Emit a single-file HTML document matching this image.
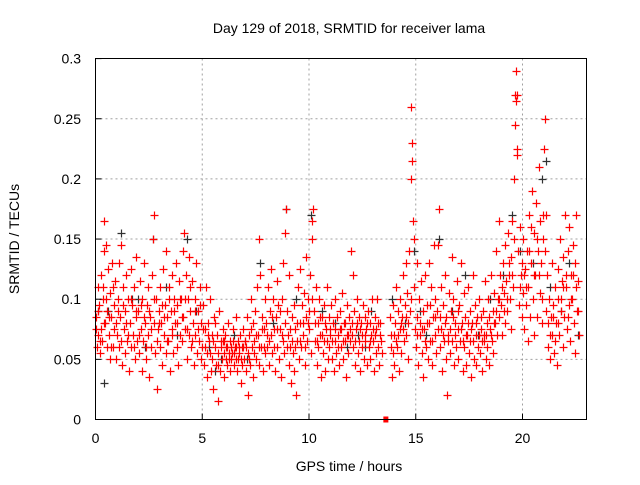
<!DOCTYPE html>
<html><head><meta charset="utf-8"><style>
body{margin:0;background:#fff;}
svg text{font-family:"Liberation Sans",sans-serif;font-size:14px;fill:#000;}
</style></head><body>
<svg id="chart" width="640" height="480" xmlns="http://www.w3.org/2000/svg">
<g id="grid"></g>
<g id="pts"></g>
<rect x="95.5" y="58.5" width="491" height="361" fill="none" stroke="#000"/>
<g id="axes"></g>
<text x="349" y="33" text-anchor="middle">Day 129 of 2018, SRMTID for receiver lama</text>
<text x="349" y="471" text-anchor="middle">GPS time / hours</text>
<text transform="translate(19,239) rotate(-90)" text-anchor="middle">SRMTID / TECUs</text>
</svg>
<script>
const xTicks=[0,5,10,15,20];
const yTicks=[0,0.05,0.1,0.15,0.2,0.25,0.3];
const yTickLabels=["0","0.05","0.1","0.15","0.2","0.25","0.3"];
const redPts=[[0.02,.085],[0.05,.06],[0.1,.11],[0.13,.07],[0.17,.095],[0.2,.055],[0.24,.12],[0.28,.075],[0.31,.065],[0.35,.1],[0.38,.165],[0.42,.14],[0.45,.08],[0.49,.145],[0.52,.06],[0.56,.09],[0.6,.125],[0.63,.07],[0.67,.05],[0.7,.105],[0.74,.085],[0.77,.13],[0.81,.06],[0.85,.095],[0.88,.075],[0.92,.115],[0.96,.05],
[1.0,.07],[1.04,.1],[1.08,.13],[1.12,.06],[1.16,.085],[1.2,.145],[1.24,.045],[1.28,.11],[1.32,.075],[1.36,.09],[1.4,.055],[1.44,.12],[1.48,.065],[1.52,.1],[1.56,.04],[1.6,.08],[1.64,.125],[1.68,.06],[1.72,.095],[1.76,.07],[1.8,.11],[1.84,.05],[1.88,.085],[1.92,.135],[1.96,.065],
[2.0,.09],[2.04,.055],[2.08,.115],[2.12,.075],[2.16,.04],[2.2,.1],[2.24,.065],[2.28,.13],[2.32,.08],[2.36,.05],[2.4,.095],[2.44,.07],[2.48,.11],[2.52,.035],[2.56,.085],[2.6,.06],[2.64,.12],[2.68,.15],[2.72,.17],[2.76,.08],[2.8,.055],[2.84,.1],[2.88,.025],[2.92,.075],[2.96,.09],
[3.0,.06],[3.04,.11],[3.08,.08],[3.12,.045],[3.16,.125],[3.2,.07],[3.24,.095],[3.28,.055],[3.32,.14],[3.36,.085],[3.4,.065],[3.44,.11],[3.48,.04],[3.52,.09],[3.56,.075],[3.6,.12],[3.64,.055],[3.68,.1],[3.72,.08],[3.76,.13],[3.8,.06],[3.84,.095],[3.88,.045],[3.92,.115],[3.96,.07],
[4.0,.1],[4.04,.065],[4.08,.14],[4.12,.085],[4.16,.155],[4.2,.075],[4.24,.12],[4.28,.05],[4.32,.1],[4.36,.135],[4.4,.07],[4.44,.09],[4.48,.06],[4.52,.115],[4.56,.08],[4.6,.045],[4.64,.1],[4.68,.07],[4.72,.13],[4.76,.055],[4.8,.09],[4.84,.065],[4.88,.11],[4.92,.05],[4.96,.08],
[5.0,.06],[5.04,.095],[5.08,.045],[5.12,.075],[5.16,.11],[5.2,.055],[5.24,.035],[5.28,.08],[5.32,.065],[5.36,.1],[5.4,.04],[5.44,.07],[5.48,.05],[5.52,.025],[5.56,.085],[5.6,.06],[5.64,.045],[5.68,.07],[5.72,.015],[5.76,.055],[5.8,.09],[5.84,.04],[5.88,.065],[5.92,.05],[5.96,.075],
[6.0,.055],[6.04,.035],[6.08,.07],[6.12,.06],[6.16,.045],[6.2,.08],[6.24,.05],[6.28,.065],[6.32,.04],[6.36,.06],[6.4,.055],[6.44,.075],[6.48,.045],[6.52,.06],[6.56,.05],[6.6,.085],[6.64,.04],[6.68,.065],[6.72,.055],[6.76,.07],[6.8,.03],[6.84,.06],[6.88,.045],[6.92,.075],[6.96,.05],
[7.0,.065],[7.04,.04],[7.08,.085],[7.12,.055],[7.16,.02],[7.2,.07],[7.24,.045],[7.28,.1],[7.32,.06],[7.36,.08],[7.4,.035],[7.44,.065],[7.48,.09],[7.52,.05],[7.56,.11],[7.6,.07],[7.64,.045],[7.68,.15],[7.72,.12],[7.76,.06],[7.8,.085],[7.84,.04],[7.88,.075],[7.92,.1],[7.96,.055],
[8.0,.08],[8.04,.06],[8.08,.11],[8.12,.045],[8.16,.09],[8.2,.07],[8.24,.125],[8.28,.055],[8.32,.1],[8.36,.075],[8.4,.04],[8.44,.085],[8.48,.115],[8.52,.06],[8.56,.095],[8.6,.05],[8.64,.075],[8.68,.035],[8.72,.1],[8.76,.065],[8.8,.13],[8.84,.055],[8.88,.155],[8.92,.175],[8.96,.09],
[9.0,.07],[9.04,.045],[9.08,.12],[9.12,.06],[9.16,.03],[9.2,.085],[9.24,.055],[9.28,.095],[9.32,.04],[9.36,.075],[9.4,.02],[9.44,.065],[9.48,.11],[9.52,.05],[9.56,.08],[9.6,.125],[9.64,.06],[9.68,.095],[9.72,.07],[9.76,.105],[9.8,.045],[9.84,.085],[9.88,.135],[9.92,.065],[9.96,.1],
[10.0,.075],[10.04,.12],[10.08,.055],[10.12,.165],[10.16,.15],[10.2,.175],[10.24,.09],[10.28,.065],[10.32,.11],[10.36,.045],[10.4,.08],[10.44,.06],[10.48,.1],[10.52,.07],[10.56,.035],[10.6,.085],[10.64,.055],[10.68,.095],[10.72,.065],[10.76,.04],[10.8,.075],[10.84,.11],[10.88,.05],[10.92,.085],[10.96,.06],
[11.0,.07],[11.04,.095],[11.08,.05],[11.12,.08],[11.16,.04],[11.2,.065],[11.24,.1],[11.28,.055],[11.32,.085],[11.36,.07],[11.4,.045],[11.44,.09],[11.48,.06],[11.52,.075],[11.56,.105],[11.6,.05],[11.64,.08],[11.68,.065],[11.72,.035],[11.76,.07],[11.8,.095],[11.84,.055],[11.88,.085],[11.92,.065],[11.96,.14],
[12.0,.08],[12.04,.12],[12.08,.06],[12.12,.09],[12.16,.045],[12.2,.075],[12.24,.1],[12.28,.055],[12.32,.085],[12.36,.065],[12.4,.04],[12.44,.08],[12.48,.07],[12.52,.095],[12.56,.05],[12.6,.085],[12.64,.065],[12.68,.075],[12.72,.045],[12.76,.09],[12.8,.06],[12.84,.08],[12.88,.05],[12.92,.07],[12.96,.1],
[13.0,.065],[13.04,.04],[13.08,.085],[13.12,.055],[13.16,.075],[13.2,.1],[13.24,.06],[13.28,.045],[13.32,.08],[13.36,.065],[13.4,.055],
[13.8,.085],[13.84,.06],[13.88,.035],[13.92,.095],[13.96,.07],
[14.0,.045],[14.04,.08],[14.08,.11],[14.12,.06],[14.16,.09],[14.2,.04],[14.24,.075],[14.28,.1],[14.32,.055],[14.36,.085],[14.4,.12],[14.44,.065],[14.48,.095],[14.52,.13],[14.56,.07],[14.6,.105],[14.64,.05],[14.68,.14],[14.72,.09],[14.76,.2],[14.8,.26],[14.84,.23],[14.88,.165],[14.92,.11],[14.96,.075],
[15.0,.06],[15.04,.13],[15.08,.085],[15.12,.045],[15.16,.1],[15.2,.07],[15.24,.115],[15.28,.055],[15.32,.09],[15.36,.035],[15.4,.075],[15.44,.12],[15.48,.06],[15.52,.095],[15.56,.05],[15.6,.13],[15.64,.08],[15.68,.065],[15.72,.11],[15.76,.045],[15.8,.085],[15.84,.145],[15.88,.07],[15.92,.1],[15.96,.055],
[16.0,.09],[16.04,.145],[16.08,.175],[16.12,.06],[16.16,.11],[16.2,.075],[16.24,.04],[16.28,.095],[16.32,.065],[16.36,.12],[16.4,.05],[16.44,.085],[16.48,.02],[16.52,.07],[16.56,.105],[16.6,.055],[16.64,.09],[16.68,.135],[16.72,.065],[16.76,.1],[16.8,.045],[16.84,.08],[16.88,.06],[16.92,.115],[16.96,.075],
[17.0,.05],[17.04,.095],[17.08,.065],[17.12,.13],[17.16,.08],[17.2,.04],[17.24,.105],[17.28,.06],[17.32,.085],[17.36,.045],[17.4,.07],[17.44,.11],[17.48,.055],[17.52,.09],[17.56,.065],[17.6,.035],[17.64,.08],[17.68,.12],[17.72,.05],[17.76,.095],[17.8,.07],[17.84,.045],[17.88,.085],[17.92,.06],[17.96,.1],
[18.0,.055],[18.04,.085],[18.08,.065],[18.12,.04],[18.16,.09],[18.2,.07],[18.24,.115],[18.28,.05],[18.32,.08],[18.36,.06],[18.4,.1],[18.44,.045],[18.48,.075],[18.52,.12],[18.56,.065],[18.6,.09],[18.64,.055],[18.68,.105],[18.72,.08],[18.76,.14],[18.8,.07],[18.84,.1],[18.88,.165],[18.92,.085],[18.96,.12],
[19.0,.095],[19.04,.07],[19.08,.13],[19.12,.105],[19.16,.08],[19.2,.145],[19.24,.115],[19.28,.09],[19.32,.155],[19.36,.12],[19.4,.1],[19.44,.075],[19.48,.135],[19.52,.165],[19.56,.11],[19.6,.2],[19.64,.245],[19.68,.29],[19.72,.27],[19.76,.225],[19.8,.14],[19.84,.095],[19.88,.16],[19.92,.12],[19.96,.085],
[20.0,.105],[20.04,.15],[20.08,.075],[20.12,.125],[20.16,.095],[20.2,.14],[20.24,.065],[20.28,.11],[20.32,.17],[20.36,.085],[20.4,.13],[20.44,.19],[20.48,.1],[20.52,.155],[20.56,.07],[20.6,.12],[20.64,.18],[20.68,.085],[20.72,.14],[20.76,.21],[20.8,.165],[20.84,.105],[20.88,.13],[20.92,.08],[20.96,.15],
[21.0,.225],[21.04,.25],[21.08,.17],[21.12,.09],[21.16,.12],[21.2,.06],[21.24,.1],[21.28,.05],[21.32,.085],[21.36,.13],[21.4,.07],[21.44,.095],[21.48,.055],[21.52,.11],[21.56,.08],[21.6,.045],[21.64,.1],[21.68,.125],[21.72,.07],[21.76,.15],[21.8,.09],[21.84,.115],[21.88,.06],[21.92,.135],[21.96,.085],
[22.0,.17],[22.04,.11],[22.08,.075],[22.12,.14],[22.16,.095],[22.2,.16],[22.24,.065],[22.28,.12],[22.32,.1],[22.36,.145],[22.4,.08],[22.44,.13],[22.48,.055],[22.52,.17],[22.56,.09],[22.6,.115],[22.64,.07]];
const redPts2=[[0.03,.075],[0.12,.09],[0.22,.065],[0.33,.11],[0.41,.08],[0.5,.1],[0.62,.085],[0.72,.06],[0.83,.11],[0.94,.08],
[1.06,.09],[1.18,.065],[1.3,.095],[1.42,.08],[1.54,.07],[1.66,.1],[1.78,.06],[1.9,.09],
[2.02,.07],[2.14,.095],[2.26,.085],[2.38,.06],[2.5,.09],[2.62,.075],[2.74,.1],[2.86,.065],[2.98,.08],
[3.1,.095],[3.22,.085],[3.34,.065],[3.46,.1],[3.58,.07],[3.7,.09],[3.82,.08],[3.94,.1],
[4.06,.085],[4.18,.1],[4.3,.075],[4.42,.11],[4.54,.065],[4.66,.09],[4.78,.075],[4.9,.095],
[5.02,.075],[5.14,.06],[5.26,.07],[5.38,.055],[5.5,.065],[5.62,.08],[5.74,.045],[5.86,.06],[5.98,.065],
[6.02,.065],[6.1,.05],[6.18,.06],[6.26,.055],[6.34,.05],[6.42,.065],[6.5,.055],[6.58,.06],[6.66,.05],[6.74,.06],[6.82,.05],[6.9,.06],[6.98,.065],
[7.06,.06],[7.18,.05],[7.3,.075],[7.42,.055],[7.54,.07],[7.66,.06],[7.78,.075],[7.9,.06],
[8.02,.07],[8.14,.065],[8.26,.085],[8.38,.06],[8.5,.075],[8.62,.09],[8.74,.07],[8.86,.08],[8.98,.06],
[9.1,.075],[9.22,.065],[9.34,.06],[9.46,.08],[9.58,.065],[9.7,.08],[9.82,.06],[9.94,.08],
[10.02,.09],[10.14,.1],[10.26,.08],[10.38,.065],[10.5,.085],[10.62,.07],[10.74,.08],[10.86,.065],[10.98,.075],
[11.1,.065],[11.22,.075],[11.34,.06],[11.46,.075],[11.58,.065],[11.7,.08],[11.82,.07],[11.94,.075],
[12.02,.07],[12.14,.065],[12.26,.08],[12.38,.075],[12.5,.06],[12.62,.07],[12.74,.08],[12.86,.065],[12.98,.075],
[13.1,.07],[13.22,.08],[13.34,.07],[13.82,.07],[13.94,.055],
[14.06,.065],[14.18,.07],[14.3,.08],[14.42,.075],[14.54,.085],[14.66,.08],[14.78,.1],[14.82,.215],[14.9,.15],
[15.06,.07],[15.18,.08],[15.3,.075],[15.42,.065],[15.54,.08],[15.66,.095],[15.78,.065],[15.9,.085],
[16.02,.075],[16.14,.085],[16.26,.07],[16.38,.08],[16.5,.065],[16.62,.075],[16.74,.085],[16.86,.07],[16.98,.09],
[17.1,.075],[17.22,.065],[17.34,.07],[17.46,.08],[17.58,.075],[17.7,.065],[17.82,.08],[17.94,.07],
[18.06,.075],[18.18,.065],[18.3,.07],[18.42,.085],[18.54,.07],[18.66,.08],[18.78,.09],[18.9,.1],
[19.02,.11],[19.14,.09],[19.26,.1],[19.38,.13],[19.5,.12],[19.62,.15],[19.66,.27],[19.7,.265],[19.74,.22],[19.86,.11],[19.98,.13],
[20.06,.12],[20.18,.11],[20.3,.14],[20.42,.16],[20.54,.12],[20.66,.15],[20.78,.12],[20.9,.1],[20.98,.17],
[21.06,.14],[21.18,.08],[21.3,.07],[21.42,.085],[21.54,.065],[21.66,.08],[21.78,.1],[21.9,.11],
[22.02,.12],[22.14,.085],[22.26,.1],[22.38,.12],[22.5,.11],[22.62,.09]];
const blackPts=[[0.1,.09],[0.4,.03],[0.6,.09],[1.2,.155],[1.7,.1],[2.3,.06],[2.7,.15],[3.3,.11],[3.8,.07],[4.3,.15],[4.7,.09],[5.3,.06],[5.9,.05],[6.5,.07],[7.1,.05],[7.7,.13],[8.3,.08],[8.9,.175],[9.4,.1],[10.1,.17],[10.6,.09],[11.2,.08],[11.8,.06],[12.3,.07],[12.9,.09],[13.9,.1],[14.5,.08],[14.9,.14],[15.5,.07],[16.1,.15],[16.7,.09],[17.3,.12],[17.9,.07],[18.5,.1],[19.1,.12],[19.5,.17],[19.9,.14],[20.5,.13],[20.9,.2],[21.3,.11],[21.8,.09],[22.2,.13],[22.6,.07],[2.0,.1],[5.6,.04],[12.6,.06],[15.2,.09],[21.1,.215]];
const gapMarks=[[13.6,0]];
const X0=95.5,PX=21.35,Y0=419.5,PY=1203;
function xs(t){return X0+t*PX;}
function ys(v){return Y0-v*PY;}
const NS="http://www.w3.org/2000/svg";
const grid=document.getElementById('grid'),axes=document.getElementById('axes'),pts=document.getElementById('pts');
function mk(tag,attrs,parent){const e=document.createElementNS(NS,tag);for(const k in attrs)e.setAttribute(k,attrs[k]);parent.appendChild(e);return e;}
xTicks.forEach((t,i)=>{const x=xs(t);
 if(t>0){const g=mk('line',{x1:x,x2:x,y1:58.5,y2:419.5,stroke:'#a0a0a0','stroke-dasharray':'2,3'},grid);
 
 }
 const tk=mk('line',{x1:x,x2:x,y1:419.5,y2:413.5,stroke:'#000'},axes);
 
 
 const tx=mk('text',{x:x,y:443,'text-anchor':'middle'},axes);tx.textContent=String(t);
 
 });
yTicks.forEach((v,i)=>{const y=ys(v);
 if(v>0&&v<0.3){const g=mk('line',{x1:95.5,x2:586.5,y1:y,y2:y,stroke:'#a0a0a0','stroke-dasharray':'2,3'},grid);
 
 }
 const tk=mk('line',{x1:95.5,x2:101.5,y1:y,y2:y,stroke:'#000'},axes);
 
 
 const tx=mk('text',{x:81,y:y+5,'text-anchor':'end'},axes);tx.textContent=yTickLabels[i];
 
 });
function plus(p,col){const x=Math.round(xs(p[0]))+0.5,y=Math.round(ys(p[1]))+0.5;
 const e=mk('path',{d:`M${x-4},${y}H${x+4}M${x},${y-4}V${y+4}`,stroke:col,'stroke-width':1.2,fill:'none'},pts);
 return e;}
blackPts.forEach(p=>{const e=plus(p,'#303030');
 
 });
redPts.forEach(p=>{const e=plus(p,'#ff0000');
 
 });
redPts2.forEach(p=>{const e=plus(p,'#ff0000');
 
 });
gapMarks.forEach(p=>{const e=mk('rect',{x:xs(p[0])-2.5,y:ys(p[1])-3,width:5,height:6,fill:'#ff0000'},pts);
 
 });
</script>
</body></html>
